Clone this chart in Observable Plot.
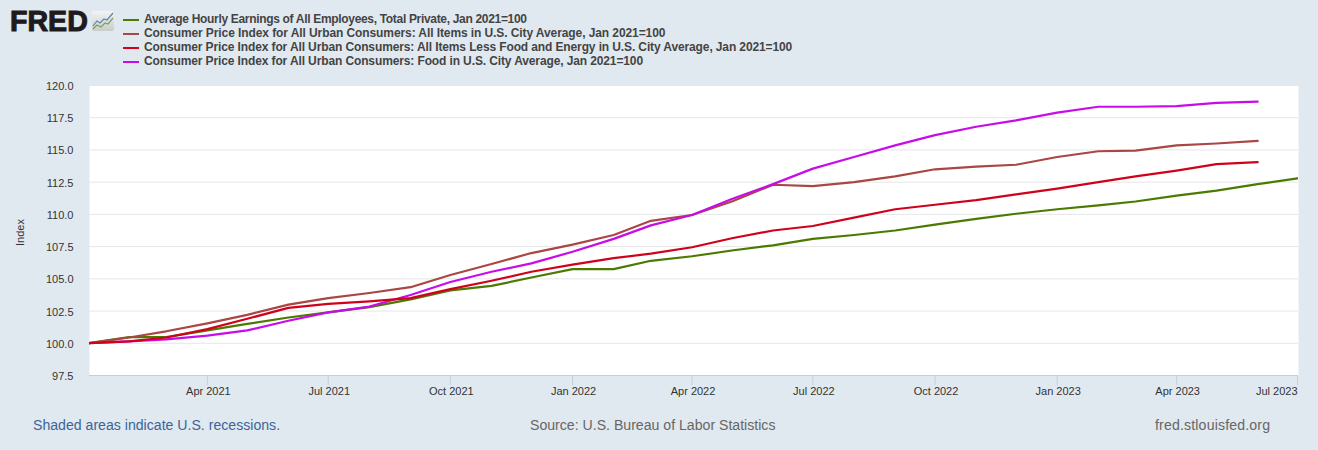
<!DOCTYPE html>
<html><head><meta charset="utf-8">
<script src="https://cdn.jsdelivr.net/npm/d3@7"></script>
<script src="https://cdn.jsdelivr.net/npm/@observablehq/plot@0.6"></script>
<style>
html,body{margin:0;padding:0;background:#e1e9f0;width:1318px;height:450px;overflow:hidden;font-family:"Liberation Sans",Arial,sans-serif}
#head{position:relative;height:74px}
#logo{position:absolute;left:10px;top:5px;font:bold 28.6px "Liberation Sans";color:#1f1a1c;-webkit-text-stroke:1px #1f1a1c;line-height:32px}
#icon{position:absolute;left:92px;top:11px}
#legend{position:absolute;left:123px;top:13.4px;font:bold 12px "Liberation Sans";color:#444}
.row{height:13.9px;line-height:13.9px;white-space:nowrap;display:flex;align-items:center}
.sw{display:inline-block;width:16px;height:2px;margin-right:5px}
.row:nth-child(1) span:last-child{letter-spacing:-.32px}
.row:nth-child(2) span:last-child{letter-spacing:-.09px}
.row:nth-child(3) span:last-child{letter-spacing:-.12px}
.row:nth-child(4) span:last-child{letter-spacing:-.12px}
#chart svg{display:block;background:transparent}
#foot{position:relative;height:40px;font:14.12px "Liberation Sans"}
#foot div{position:absolute;top:7px;white-space:nowrap;color:#666}
</style></head><body>
<div id="head">
<div id="logo">FRED</div>
<svg id="icon" width="23" height="21"><defs><linearGradient id="g" x1="0" y1="0" x2="0" y2="1"><stop offset="0" stop-color="#f2f4f5"/><stop offset="1" stop-color="#c9cdc9"/></linearGradient></defs><rect width="22" height="20" rx="2" fill="url(#g)"/><polyline points="1,15 5,10 8,12 12,8 15,9 21,2" fill="none" stroke="#5b86ad" stroke-width="1.2"/><polyline points="1,18 5,14 9,16 13,12 16,13 21,7" fill="none" stroke="#7f9f5a" stroke-width="1.2"/></svg>
<div id="legend"></div>
</div>
<div id="chart"></div>
<div id="foot">
<div style="left:33px;color:#3c6498">Shaded areas indicate U.S. recessions.</div>
<div style="left:530px">Source: U.S. Bureau of Labor Statistics</div>
<div style="left:1155px;letter-spacing:.16px">fred.stlouisfed.org</div>
</div>
<script>
const months = d3.utcMonths(new Date(Date.UTC(2021,0,1)), new Date(Date.UTC(2023,7,1)));
const seriesNames = [
 "Average Hourly Earnings of All Employees, Total Private, Jan 2021=100",
 "Consumer Price Index for All Urban Consumers: All Items in U.S. City Average, Jan 2021=100",
 "Consumer Price Index for All Urban Consumers: All Items Less Food and Energy in U.S. City Average, Jan 2021=100",
 "Consumer Price Index for All Urban Consumers: Food in U.S. City Average, Jan 2021=100"];
const seriesColors = ["#4a7a00","#aa4643","#d0021b","#c80ce8"];
const earnings = [100,100.48,100.48,101.0,101.5,102.0,102.4,102.8,103.4,104.1,104.45,105.1,105.75,105.75,106.4,106.75,107.2,107.6,108.1,108.4,108.75,109.2,109.65,110.05,110.4,110.7,111.0,111.45,111.85,112.35,112.8];
const cpiAll = [100,100.45,100.93,101.55,102.2,103.0,103.5,103.9,104.35,105.3,106.15,107.0,107.65,108.4,109.5,109.95,111.0,112.3,112.2,112.5,112.95,113.5,113.7,113.85,114.45,114.9,114.95,115.35,115.5,115.7];
const cpiCore = [100,100.15,100.45,101.1,101.9,102.75,103.05,103.25,103.5,104.2,104.85,105.55,106.1,106.6,106.95,107.45,108.15,108.75,109.1,109.75,110.4,110.75,111.1,111.55,112.0,112.5,112.95,113.4,113.9,114.05];
const cpiFood = [100,100.15,100.3,100.6,101.0,101.75,102.4,102.85,103.75,104.75,105.55,106.2,107.1,108.1,109.15,109.95,111.2,112.35,113.55,114.45,115.35,116.15,116.8,117.3,117.9,118.35,118.35,118.4,118.65,118.75];
const yTicks = [97.5,100,102.5,105,107.5,110,112.5,115,117.5,120];
const xTickDates = [[2021,3],[2021,6],[2021,9],[2022,0],[2022,3],[2022,6],[2022,9],[2023,0],[2023,3]].map(([y,m])=>new Date(Date.UTC(y,m,1)));
const lastTick = new Date(Date.UTC(2023,6,1));
const domainStart = new Date(Date.UTC(2021,0,2,5));
const domainEnd = new Date(Date.UTC(2023,6,1,18));
const allSeries = [earnings,cpiAll,cpiFood,cpiCore];
const seriesIdx = [0,1,3,2];
const fmt = d3.utcFormat("%b %Y");
const leg = d3.select("#legend");
seriesNames.forEach((n,i)=>{const r=leg.append("div").attr("class","row");
 r.append("span").attr("class","sw").style("background",seriesColors[i]);
 r.append("span").text(n);});
const lineMarks = allSeries.map((vals,k)=>Plot.line(vals.map((v,i)=>({date:months[i],v})),{x:"date",y:"v",stroke:seriesColors[seriesIdx[k]],strokeWidth:2.2,clip:true}));
const plot = Plot.plot({
 width:1318,height:336,marginTop:11,marginBottom:35,marginLeft:89,marginRight:20,
 style:{background:"transparent",fontFamily:"Liberation Sans",fontSize:"11px",overflow:"visible"},
 x:{type:"utc",domain:[domainStart,domainEnd]},
 y:{domain:[97.5,120]},
 marks:[
  Plot.frame({fill:"white",stroke:null}),
  Plot.gridY(yTicks,{stroke:"#e6e6e6",strokeOpacity:1,strokeWidth:1}),
  Plot.ruleY([97.5],{stroke:"#c0d0e0"}),
  ...lineMarks,
  Plot.axisY({ticks:yTicks,tickSize:0,tickPadding:16,tickFormat:d=>d.toFixed(1),fill:"#333",label:null,fontSize:11,dy:1}),
  Plot.axisX({ticks:[...xTickDates,lastTick],tickSize:10,stroke:"#c0d0e0",tickFormat:()=>"",label:null}),
  Plot.axisX({ticks:xTickDates,tickSize:0,tickPadding:12,tickFormat:fmt,fill:"#333",label:null,fontSize:11,dx:1}),
  Plot.axisX({ticks:[lastTick],tickSize:0,tickPadding:12,tickFormat:fmt,fill:"#333",label:null,fontSize:11,textAnchor:"end"}),
  Plot.text(["Index"],{frameAnchor:"left",textAnchor:"middle",dx:-69,dy:2,rotate:-90,fill:"#333",fontSize:11})
 ]
});
document.getElementById("chart").append(plot);
</script>
</body></html>
